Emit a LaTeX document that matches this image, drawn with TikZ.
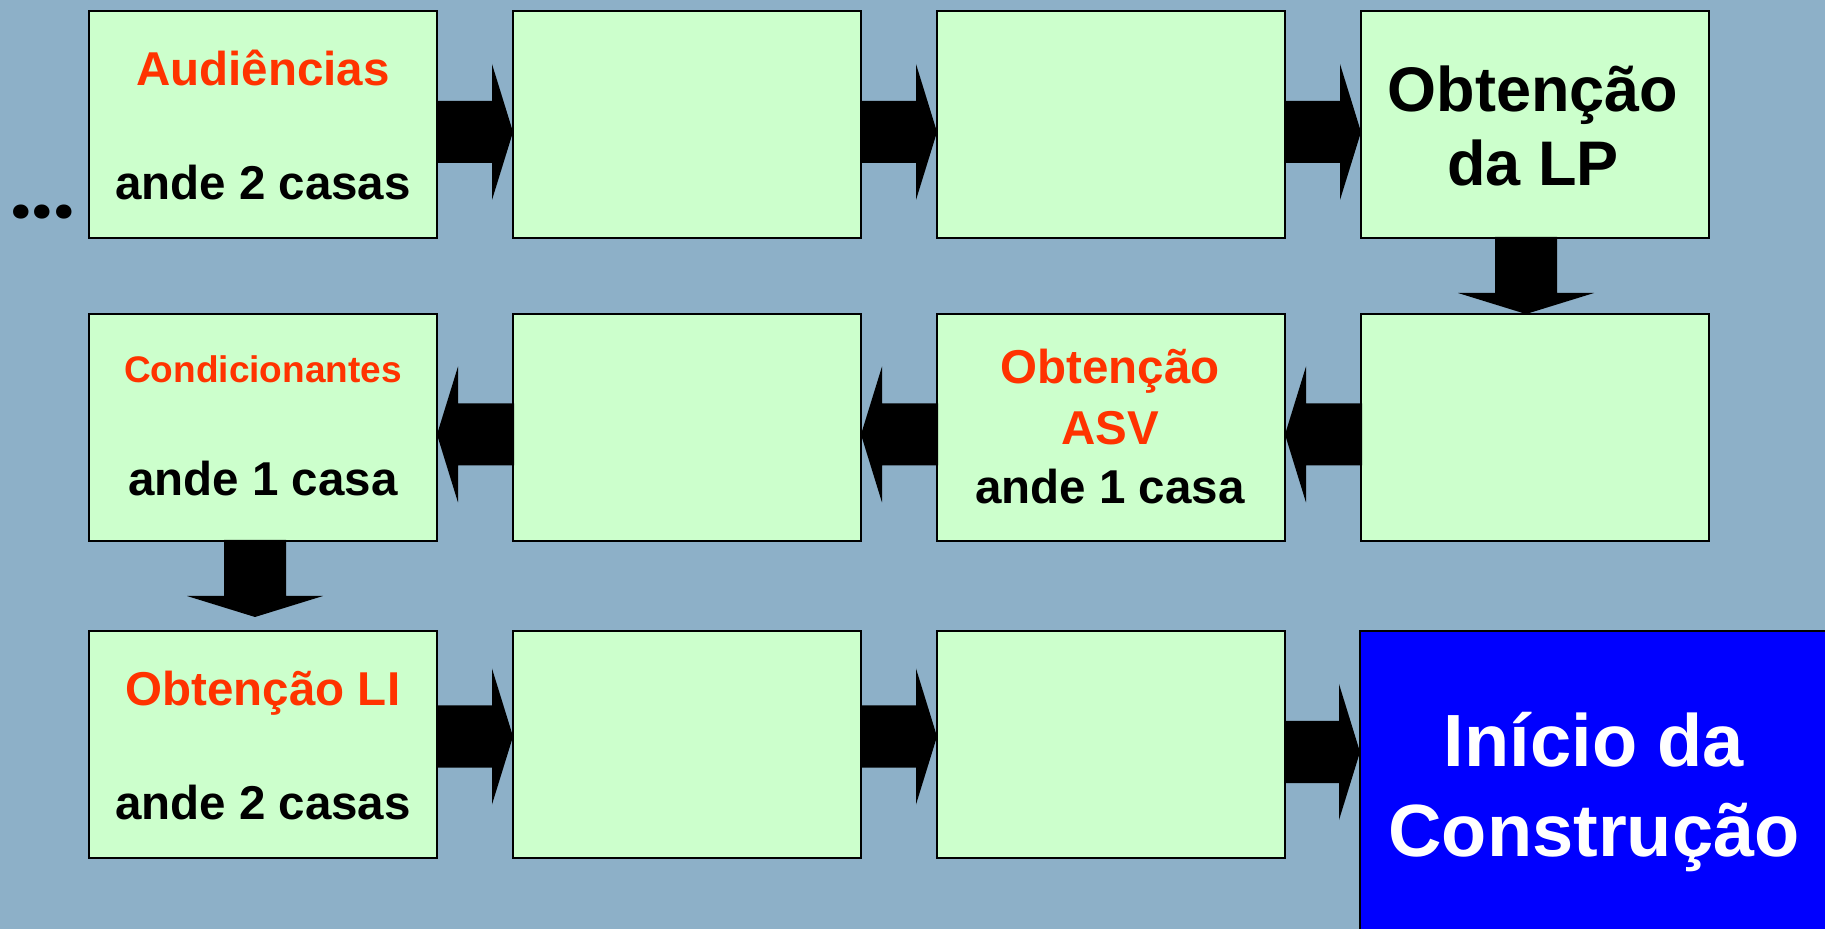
\documentclass[tikz,border=0pt]{standalone}
\usepackage{fontspec}
\setmainfont{Liberation Sans}
\newfontfamily\dotfont{Poppins}
\usetikzlibrary{calc}
\definecolor{bgc}{RGB}{141,176,200}
\definecolor{boxg}{RGB}{204,255,204}
\definecolor{redt}{RGB}{255,51,0}
\definecolor{blueb}{RGB}{0,0,255}
\newcommand{\fsz}[1]{\fontsize{#1}{#1}\selectfont\bfseries}
% right-pointing block arrow from #1 to #2, vertical offset #3 (px)
\newcommand{\rarr}[3]{%
  \fill[black] ($(#1.east)+(-1,#3-31)$) -- ($(#2.west |- #1.east)+(-21,#3-31)$)
    -- ($(#2.west |- #1.east)+(-21,#3-68)$) -- ($(#2.west |- #1.east)+(0,#3)$)
    -- ($(#2.west |- #1.east)+(-21,#3+68)$) -- ($(#2.west |- #1.east)+(-21,#3+31)$)
    -- ($(#1.east)+(-1,#3+31)$) -- cycle;}
% left-pointing block arrow from #1 to #2
\newcommand{\larr}[3]{%
  \fill[black] ($(#1.west)+(1,#3-31)$) -- ($(#2.east |- #1.west)+(21,#3-31)$)
    -- ($(#2.east |- #1.west)+(21,#3-68)$) -- ($(#2.east |- #1.west)+(0,#3)$)
    -- ($(#2.east |- #1.west)+(21,#3+68)$) -- ($(#2.east |- #1.west)+(21,#3+31)$)
    -- ($(#1.west)+(1,#3+31)$) -- cycle;}
% downward block arrow from #1 towards #2, horizontal offset #3
\newcommand{\darr}[3]{%
  \fill[black] ($(#2.north |- #1.south)+(#3-31,-1)$) -- ($(#2.north |- #1.south)+(#3-31,55)$)
    -- ($(#2.north |- #1.south)+(#3-68,55)$) -- ($(#2.north |- #1.south)+(#3,76)$)
    -- ($(#2.north |- #1.south)+(#3+68,55)$) -- ($(#2.north |- #1.south)+(#3+31,55)$)
    -- ($(#2.north |- #1.south)+(#3+31,-1)$) -- cycle;}
\begin{document}
\begin{tikzpicture}[x=0.5pt,y=-0.5pt,
  box/.style={draw=black,line width=1.1pt,fill=boxg,minimum width=174pt,
    minimum height=113.5pt,outer sep=0pt,inner sep=0pt},
  bluebox/.style={draw=black,line width=1.1pt,fill=blueb,minimum width=250pt,
    minimum height=165pt,outer sep=0pt,inner sep=0pt},
  txt/.style={anchor=base,inner sep=0pt,font=\fsz{23.75pt}},
  redtxt/.style={txt,text=redt},
  bigtxt/.style={anchor=base,inner sep=0pt,font=\fsz{31.5pt}},
  smalltxt/.style={anchor=base,inner sep=0pt,font=\fsz{18.5pt},text=redt},
  whitetxt/.style={anchor=base,inner sep=0pt,font=\fsz{37pt},text=white}]
\useasboundingbox (0,0) rectangle (1825,929);
\clip (0,0) rectangle (1825,929);
\fill[bgc] (0,0) rectangle (1825,929);

% boxes
\node[box] (b11) at (263,124.5) {};
\node[box] (b12) at (687,124.5) {};
\node[box] (b13) at (1111,124.5) {};
\node[box] (b14) at (1535,124.5) {};
\node[box] (b21) at (263,427.5) {};
\node[box] (b22) at (687,427.5) {};
\node[box] (b23) at (1111,427.5) {};
\node[box] (b24) at (1535,427.5) {};
\node[box] (b31) at (263,744.5) {};
\node[box] (b32) at (687,744.5) {};
\node[box] (b33) at (1111,744.5) {};
\node[bluebox] (b34) at (1610,796) {};

% texts
\node[anchor=base,inner sep=0pt,font={\dotfont\fontsize{38pt}{38pt}\selectfont\bfseries}] (dots) at (42.5,219) {...};
\node[redtxt] (t11a) at (263,86) {Audiências};
\node[txt] (t11b) at (263,200) {ande 2 casas};
\node[bigtxt] (t14a) at (1533,111.7) {Obtenção};
\node[bigtxt] (t14b) at (1533,185.7) {da LP};
\node[smalltxt] (t21a) at (263,382.7) {Condicionantes};
\node[txt] (t21b) at (263,495.7) {ande 1 casa};
\node[redtxt] (t23a) at (1110,384) {Obtenção};
\node[redtxt] (t23b) at (1110,445) {ASV};
\node[txt] (t23c) at (1110,503.3) {ande 1 casa};
\node[redtxt] (t31a) at (263,705) {Obtenção LI};
\node[txt] (t31b) at (263,819) {ande 2 casas};
\node[whitetxt] (t34a) at (1594,766) {Início da};
\node[whitetxt] (t34b) at (1594,856) {Construção};

% arrows
\rarr{b11}{b12}{7.5}
\rarr{b12}{b13}{7.5}
\rarr{b13}{b14}{7.5}
\darr{b14}{b24}{-9}
\larr{b24}{b23}{7}
\larr{b23}{b22}{7}
\larr{b22}{b21}{7}
\darr{b21}{b31}{-8}
\rarr{b31}{b32}{-8}
\rarr{b32}{b33}{-8}
\rarr{b33}{b34}{7.5}
\end{tikzpicture}
\end{document}
